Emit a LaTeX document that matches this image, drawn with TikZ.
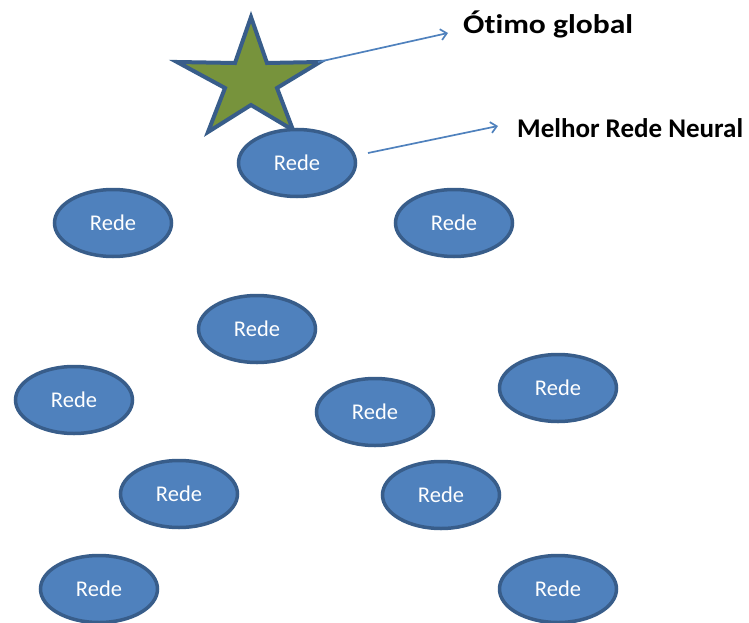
\documentclass[tikz,border=0pt]{standalone}
\usepackage{fontspec}
\usepackage{graphicx}
\setmainfont{Carlito}[Ligatures=NoCommon]
\usetikzlibrary{arrows.meta,shapes.geometric}
\definecolor{redefill}{HTML}{4F81BD}
\definecolor{rededraw}{HTML}{385D8A}
\definecolor{starfill}{HTML}{77933C}
\definecolor{arrowcol}{HTML}{4F81BD}
\begin{document}
\begin{tikzpicture}[x=1pt,y=-1pt,
  rede/.style={ellipse, fill=redefill, draw=rededraw, line width=3.5pt,
    minimum width=117pt, minimum height=67pt, inner sep=0pt,
    text=white, font=\fontsize{22.5}{22.5}\selectfont},
  lbl/.style={anchor=base west, font=\fontsize{27}{27}\selectfont\bfseries, text=black, inner sep=0pt},
  pointer/.style={draw=arrowcol, line width=1.7pt, -{Straight Barb[length=6pt,width=11pt,line width=1.7pt]}}]
\useasboundingbox (0,0) rectangle (749,623);
% star
\draw[fill=starfill, draw=rededraw, line width=4pt, line join=miter]
  (251,17) -- (267,63) -- (320,62) -- (277,88) -- (293,130) -- (251,105)
  -- (208,132) -- (225,88) -- (177,62) -- (235,63) -- cycle;
\coordinate (startip) at (318,62);
% ellipses
\node[rede] (r1) at (297,163) {Rede};
\node[rede] (r2) at (113,223) {Rede};
\node[rede] (r3) at (454,223) {Rede};
\node[rede] (r4) at (257,329) {Rede};
\node[rede] (r5) at (74,400) {Rede};
\node[rede] (r6) at (375,412) {Rede};
\node[rede] (r7) at (558,388) {Rede};
\node[rede] (r8) at (179,494) {Rede};
\node[rede] (r9) at (441,495) {Rede};
\node[rede] (r10) at (99,589) {Rede};
\node[rede] (r11) at (558,589) {Rede};
% labels
\node[lbl] (otimo) at (463,34) {\scalebox{1.17}[1]{Ótimo global}};
\node[lbl] (melhor) at (517,137) {Melhor Rede Neural};
\coordinate (a1end) at (448,33);
\coordinate (a2start) at (368,153);
\coordinate (a2end) at (498,126);
\draw[pointer] (startip) -- (a1end);
\draw[pointer] (a2start) -- (a2end);
\end{tikzpicture}
\end{document}
